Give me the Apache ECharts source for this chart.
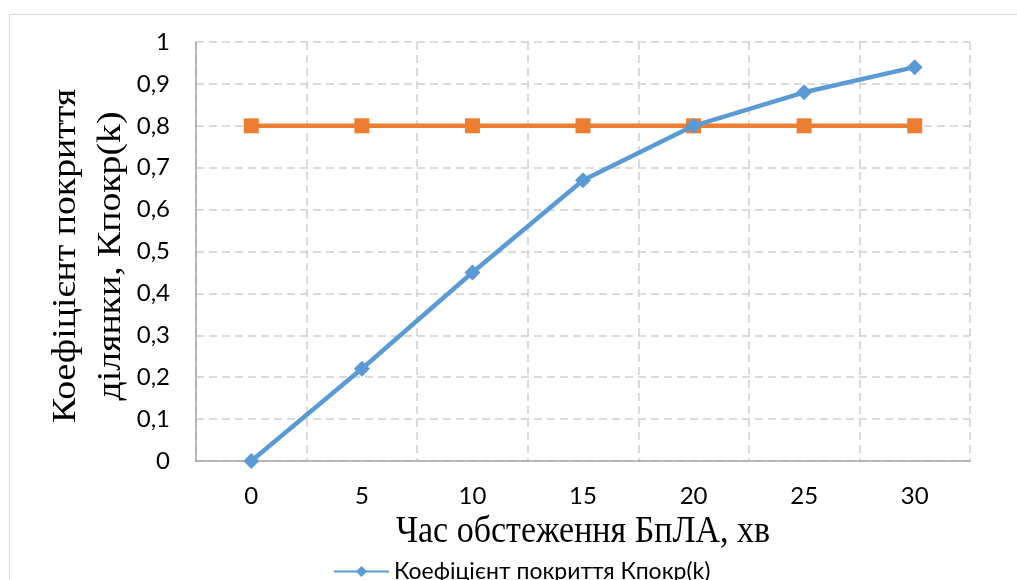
<!DOCTYPE html>
<html><head><meta charset="utf-8">
<script src="https://cdn.jsdelivr.net/npm/echarts@6/dist/echarts.min.js"></script>
<style>
html,body{margin:0;padding:0;background:#fff;overflow:hidden;}
#frame{position:absolute;left:9px;top:14px;width:1100px;height:700px;border:1px solid #D9D9D9;box-sizing:border-box;}
#c{position:absolute;left:0;top:0;width:1017px;height:580px;}
</style></head>
<body><div id="frame"></div><div id="c"></div>
<script>
const categories = ['0','5','10','15','20','25','30'];
const coverage = [0, 0.22, 0.45, 0.67, 0.80, 0.88, 0.94];
const required = [0.8, 0.8, 0.8, 0.8, 0.8, 0.8, 0.8];
const seriesNames = ['Коефіцієнт покриття Кпокр(k)', 'Необхідний коефіцієнт покриття'];
const xTitle = 'Час обстеження БпЛА, хв';
const yTitle = 'Коефіцієнт покриття\nділянки, Кпокр(k)';

const chart = echarts.init(document.getElementById('c'), null, {renderer:'canvas'});
chart.setOption({
  animation:false,
  backgroundColor:'transparent',
  grid: {left:196, right:47, top:42, bottom:119},
  legend:{
    orient:'vertical', left:328, top:555, height:200, itemWidth:55, itemHeight:14, itemGap:10,
    textStyle:{fontFamily:'Lato', fontSize:23, color:'#000'},
    data: seriesNames
  },
  xAxis:{
    type:'category', data:categories, boundaryGap:true,
    axisLine:{show:true, lineStyle:{color:'#A6A6A6', width:1.5}},
    axisTick:{show:false},
    axisLabel:{color:'#000', fontFamily:'Lato', fontSize:24, margin:23},
    splitLine:{show:true, lineStyle:{color:'#D0D0D0', width:1.5, type:[8,5]}}
  },
  yAxis:{
    type:'value', min:0, max:1, interval:0.1,
    axisLine:{show:true, lineStyle:{color:'#A6A6A6', width:1.5}},
    axisTick:{show:false},
    axisLabel:{color:'#000', fontFamily:'Lato', fontSize:24, margin:26,
      formatter: v => (Math.round(v*10)/10).toString().replace('.',',')},
    splitLine:{show:true, lineStyle:{color:'#D0D0D0', width:1.5, type:[8,5]}}
  },
  graphic:[{
    type:'text', x:89, y:256, rotation:Math.PI/2, scaleX:1.11,
    style:{text:yTitle, font:'34px "Liberation Serif"', fill:'#000', align:'center', verticalAlign:'middle', lineHeight:45}
  },{
    type:'text', x:583, y:532, scaleY:1.1,
    style:{text:xTitle, font:'34px "Liberation Serif"', fill:'#000', align:'center', verticalAlign:'middle'}
  }],
  series:[
    {name:seriesNames[0], type:'line', data:coverage, symbol:'diamond', symbolSize:16,
     lineStyle:{color:'#5B9BD5', width:4.5}, itemStyle:{color:'#5B9BD5'}, z:3},
    {name:seriesNames[1], type:'line', data:required, symbol:'rect', symbolSize:15,
     lineStyle:{color:'#ED7D31', width:4.5}, itemStyle:{color:'#ED7D31'}, z:2}
  ]
});
</script></body></html>
